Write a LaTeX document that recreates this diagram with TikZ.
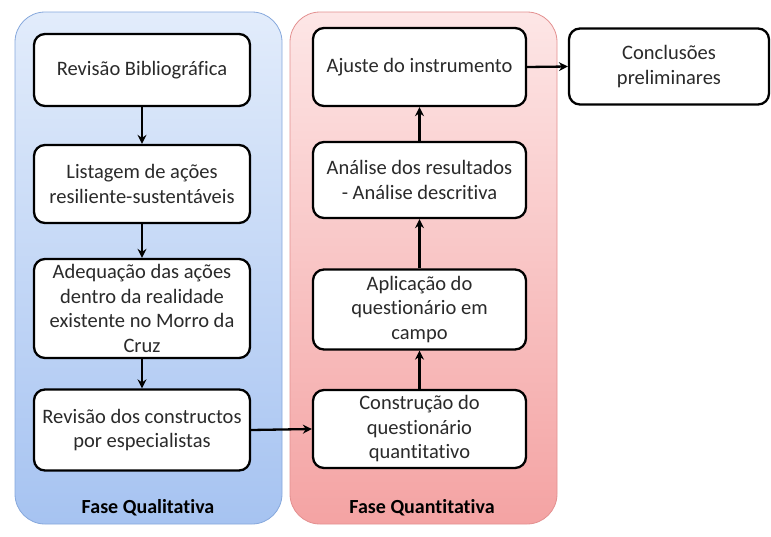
\documentclass[tikz,border=0pt]{standalone}
\usepackage{fontspec}
\setmainfont[Ligatures=NoCommon]{Carlito}
\usetikzlibrary{arrows.meta,positioning}
\definecolor{bluetop}{HTML}{E2ECFB}
\definecolor{bluebot}{HTML}{A6C3F1}
\definecolor{blueedge}{HTML}{86A8DC}
\definecolor{redtop}{HTML}{FDE6E6}
\definecolor{redbot}{HTML}{F4A3A3}
\definecolor{rededge}{HTML}{E39090}
\definecolor{txt}{HTML}{2A2A2A}
\tikzset{
  panel/.style={rounded corners=30pt, line width=0.8pt},
  stepbox/.style={draw=black, line width=2.3pt, rounded corners=11pt, fill=white,
    align=center, font=\fontsize{20.5}{24.5}\selectfont, text=txt, inner sep=0pt},
  conn/.style={line width=2.3pt, -{Stealth[length=9pt,width=9pt,inset=3pt]}},
  phase/.style={font=\fontsize{20}{24}\selectfont\bfseries, text=black}
}
\begin{document}
\begin{tikzpicture}[x=1pt,y=-1pt]
\useasboundingbox (0,0) rectangle (771,536);
% panels
\path[panel, draw=blueedge, top color=bluetop, bottom color=bluebot] (15,12) rectangle (282,524);
\path[panel, draw=rededge, top color=redtop, bottom color=redbot] (290,12) rectangle (557,524);
% left column
\node[stepbox, minimum width=216pt, minimum height=72pt] (b1) at (142,70) {Revisão Bibliográfica};
\node[stepbox, minimum width=216pt, minimum height=78pt] (b2) at (142,184) {Listagem de ações\\resiliente-sustentáveis};
\node[stepbox, minimum width=216pt, minimum height=99pt] (b3) at (142,308.5) {Adequação das ações\\dentro da realidade\\existente no Morro da\\Cruz};
\node[stepbox, minimum width=216pt, minimum height=81pt] (b4) at (142,430) {Revisão dos constructos\\por especialistas};
% right column
\node[stepbox, minimum width=213pt, minimum height=78pt] (r1) at (419.5,67) {Ajuste do instrumento};
\node[stepbox, minimum width=213pt, minimum height=76pt] (r2) at (419.5,180) {Análise dos resultados\\- Análise descritiva};
\node[stepbox, minimum width=213pt, minimum height=80pt] (r3) at (419.5,309.5) {Aplicação do\\questionário em\\campo};
\node[stepbox, minimum width=213pt, minimum height=78pt] (r4) at (419.5,429) {Construção do\\questionário\\quantitativo};
% conclusions
\node[stepbox, minimum width=200pt, minimum height=76pt] (c1) at (669,66.5) {Conclusões\\preliminares};
% phase labels
\node[phase] (pq) at (148,508) {Fase Qualitativa};
\node[phase] (pn) at (422,508) {Fase Quantitativa};
% connectors
\draw[conn] (b1) -- (b2);
\draw[conn] (b2) -- (b3);
\draw[conn] (b3) -- (b4);
\draw[conn] (b4.east) -- (r4.west);
\draw[conn] (r4) -- (r3);
\draw[conn] (r3) -- (r2);
\draw[conn] (r2) -- (r1);
\draw[conn] (r1.east) -- (c1.west);
\end{tikzpicture}
\end{document}
